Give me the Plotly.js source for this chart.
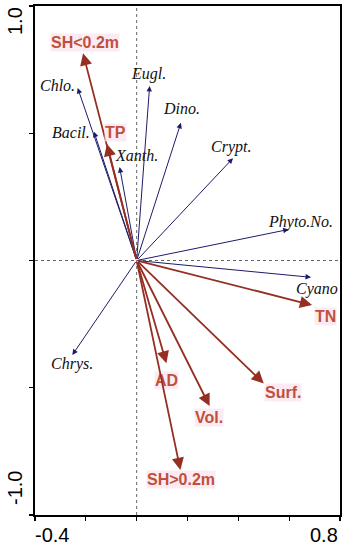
<!DOCTYPE html>
<html>
<head>
<meta charset="utf-8">
<script src="https://cdn.plot.ly/plotly-3.0.1.min.js"></script>
<style>html,body{margin:0;padding:0;background:#fff;}#chart{width:348px;height:550px;}</style>
</head>
<body>
<div id="chart"></div>
<script>
// Species (response) vectors
var species = ['Chlo.', 'Bacil.', 'Xanth.', 'Eugl.', 'Dino.', 'Crypt.', 'Phyto.No.', 'Cyano', 'Chrys.'];
var speciesX = [-0.232, -0.168, -0.067, 0.051, 0.174, 0.379, 0.598, 0.686, -0.253];
var speciesY = [0.678, 0.506, 0.367, 0.686, 0.541, 0.402, 0.122, -0.066, -0.371];

// Environmental vectors
var env = ['SH<0.2m', 'TP', 'TN', 'Surf.', 'Vol.', 'AD', 'SH>0.2m'];
var envX = [-0.211, -0.117, 0.690, 0.500, 0.287, 0.117, 0.172];
var envY = [0.814, 0.458, -0.175, -0.483, -0.572, -0.404, -0.823];

// Axis ticks
var xTickVals = [-0.4, -0.2, 0, 0.2, 0.4, 0.6, 0.8];
var yTickVals = [-1.0, -0.5, 0, 0.5, 1.0];
var xTickLabels = ['-0.4', '0.8'];
var xTickLabelVals = [-0.4, 0.8];
var yTickLabels = ['1.0', '-1.0'];
var yTickLabelVals = [1.0, -1.0];

// label offsets (pixels, screen: dx right, dy down)
var speciesLabelShift = [[-20, -2], [-23, 1], [17, -12], [-1, -12], [1, -14], [-2, -11], [12, -7], [6, 12], [0, 9]];
var envLabelShift = [[2, -11], [9, -11], [13, 11], [19, 9], [-1, 11], [0, 17], [1, 10]];
var xTickLabelShift = [17, -16];
var yTickLabelShift = [15, -27]; // screen dy (down positive)

function esc(s) { return s.replace(/</g, '&lt;').replace(/>/g, '&gt;'); }

var annotations = [];
var navy = '#1c1c6b';
var brown = '#962f22';
var envText = '#c0503c';

species.forEach(function (name, i) {
  annotations.push({
    x: speciesX[i], y: speciesY[i], xref: 'x', yref: 'y',
    ax: 0, ay: 0, axref: 'x', ayref: 'y',
    text: '', showarrow: true, arrowhead: 2, arrowsize: 1.1, arrowwidth: 1,
    arrowcolor: navy, standoff: 0
  });
  annotations.push({
    x: speciesX[i], y: speciesY[i], xref: 'x', yref: 'y',
    xshift: speciesLabelShift[i][0], yshift: -speciesLabelShift[i][1],
    text: '<i>' + esc(name) + '</i>', showarrow: false,
    font: {family: 'Liberation Serif, Times New Roman, serif', size: 16, color: '#111'}
  });
});

env.forEach(function (name, i) {
  annotations.push({
    x: envX[i], y: envY[i], xref: 'x', yref: 'y',
    ax: 0, ay: 0, axref: 'x', ayref: 'y',
    text: '', showarrow: true, arrowhead: 2, arrowsize: 1.35, arrowwidth: 1.8,
    arrowcolor: brown, standoff: 0
  });
  annotations.push({
    x: envX[i], y: envY[i], xref: 'x', yref: 'y',
    xshift: envLabelShift[i][0], yshift: -envLabelShift[i][1],
    text: '<b>' + esc(name) + '</b>', showarrow: false,
    bgcolor: 'rgba(252,228,240,0.75)', borderpad: 0,
    font: {family: 'Liberation Sans, Arial, sans-serif', size: 16, color: envText}
  });
});

xTickLabels.forEach(function (t, i) {
  annotations.push({
    x: xTickLabelVals[i], y: 0, xref: 'x', yref: 'paper', yanchor: 'top',
    xshift: xTickLabelShift[i], yshift: -7,
    text: t, showarrow: false,
    font: {family: 'Liberation Sans, Arial, sans-serif', size: 20, color: '#000'}
  });
});
yTickLabels.forEach(function (t, i) {
  annotations.push({
    x: 0, y: yTickLabelVals[i], xref: 'paper', yref: 'y', xanchor: 'center', yanchor: 'middle',
    xshift: -20, yshift: -yTickLabelShift[i],
    text: t, showarrow: false, textangle: -90,
    font: {family: 'Liberation Sans, Arial, sans-serif', size: 20, color: '#000'}
  });
});

var layout = {
  width: 348, height: 550,
  margin: {l: 35, r: 8, t: 6, b: 35},
  paper_bgcolor: '#fff', plot_bgcolor: '#fff',
  showlegend: false,
  xaxis: {
    range: [-0.4, 0.8], tickvals: xTickVals, showticklabels: false,
    ticks: 'outside', ticklen: 4, tickwidth: 1.2, tickcolor: '#000',
    showgrid: false, zeroline: false, showline: true, linecolor: '#000', linewidth: 1.6, mirror: true
  },
  yaxis: {
    range: [-1.0, 1.0], tickvals: yTickVals, showticklabels: false,
    ticks: 'outside', ticklen: 4, tickwidth: 1.2, tickcolor: '#000',
    showgrid: false, zeroline: false, showline: true, linecolor: '#000', linewidth: 1.6, mirror: true
  },
  shapes: [
    {type: 'line', xref: 'x', yref: 'paper', x0: 0, x1: 0, y0: 0, y1: 1, line: {color: '#666', width: 1, dash: 'dot'}},
    {type: 'line', xref: 'paper', yref: 'y', x0: 0, x1: 1, y0: 0, y1: 0, line: {color: '#666', width: 1, dash: 'dot'}}
  ],
  annotations: annotations
};

Plotly.newPlot('chart', [{x: [0], y: [0], mode: 'markers', marker: {size: 1, color: 'rgba(0,0,0,0)'}, hoverinfo: 'skip'}], layout, {staticPlot: true, displayModeBar: false});
</script>
</body>
</html>
